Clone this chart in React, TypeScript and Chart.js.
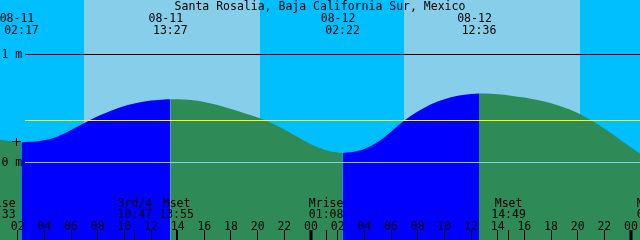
import React, { useEffect, useRef } from "react";
import { Chart, registerables } from "chart.js";

Chart.register(...registerables);

const TITLE = "Santa Rosalia, Baja California Sur, Mexico";

// hours counted from 08-11 00:00 (local)
const tideHours = [
  0.675, 1, 2, 2.283, 3, 4, 5, 6, 7, 8, 9, 10, 11, 12, 13, 13.45,
  14, 15, 16, 17, 18, 19, 20, 21, 22, 23, 24, 25, 26, 26.367,
  27, 28, 29, 30, 31, 32, 33, 34, 35, 36, 36.6,
  37, 38, 39, 40, 41, 42, 43, 44, 45, 46, 47, 48, 48.675,
];
// tide level in metres
const tideLevels = [
  0.213, 0.205, 0.19, 0.188, 0.192, 0.205, 0.24, 0.3, 0.366, 0.428, 0.48, 0.522, 0.553, 0.574, 0.584, 0.586,
  0.585, 0.578, 0.561, 0.532, 0.495, 0.456, 0.416, 0.368, 0.305, 0.236, 0.17, 0.119, 0.092, 0.089,
  0.094, 0.125, 0.19, 0.285, 0.388, 0.472, 0.54, 0.586, 0.617, 0.635, 0.639,
  0.638, 0.632, 0.619, 0.601, 0.578, 0.548, 0.51, 0.458, 0.392, 0.314, 0.228, 0.14, 0.083,
];

const extremeHours = [2.283, 13.45, 26.367, 36.6];
const extremeDates = ["08-11", "08-11", "08-12", "08-12"];
const extremeTimes = ["02:17", "13:27", "02:22", "12:36"];

const eventHours = [0.55, 10.783, 13.917, 25.133, 38.817, 49.733];
const eventNames = ["Mrise", "3rd/4", "Mset", "Mrise", "Mset", "Mrise"];
const eventTimes = ["00:33", "10:47", "13:55", "01:08", "14:49", "01:44"];

const sunriseHours = [6.967, 30.967];
const sunsetHours = [20.183, 44.183];

const hourTicks = [2, 4, 6, 8, 10, 12, 14, 16, 18, 20, 22, 24, 26, 28, 30, 32, 34, 36, 38, 40, 42, 44, 46, 48];
const hourLabels = ["02", "04", "06", "08", "10", "12", "14", "16", "18", "20", "22", "00", "02", "04", "06", "08", "10", "12", "14", "16", "18", "20", "22", "00"];

const levelLineValues = [1, 0.389, 0];
const levelLineColors = ["#000000", "#FFFF00", "#87CEEB"];
const levelLineLabels = ["1 m", "", "0 m"];

const X_MIN = 0.675;
const X_MAX = 48.675;
const Y_MIN = -0.71759;
const Y_MAX = 1.50463;

const NIGHT = "#00BFFF";
const DAY = "#87CEEB";
const FLOOD = "#0000FF";
const EBB = "#2E8B57";
const FONT = "11.5px 'DejaVu Sans Mono', monospace";

function buildDatasets() {
  const cuts = [0];
  extremeHours.forEach((h) => {
    const i = tideHours.indexOf(h);
    if (i > 0) cuts.push(i);
  });
  cuts.push(tideHours.length - 1);
  const sets: any[] = [];
  for (let k = 0; k < cuts.length - 1; k++) {
    const a = cuts[k];
    const b = cuts[k + 1];
    const pts = [];
    for (let i = a; i <= b; i++) pts.push({ x: tideHours[i], y: tideLevels[i] });
    const rising = tideLevels[b] > tideLevels[a];
    sets.push({
      data: pts,
      fill: "start",
      backgroundColor: rising ? FLOOD : EBB,
      borderWidth: 0,
      borderColor: "rgba(0,0,0,0)",
      pointRadius: 0,
      cubicInterpolationMode: "monotone",
    });
  }
  return sets;
}

const decorPlugin = {
  id: "tideDecor",
  beforeDatasetsDraw(chart: any) {
    const { ctx, width, height } = chart;
    const xs = chart.scales.x;
    ctx.save();
    ctx.fillStyle = NIGHT;
    ctx.fillRect(0, 0, width, height);
    ctx.fillStyle = DAY;
    for (let i = 0; i < sunriseHours.length; i++) {
      const a = Math.round(xs.getPixelForValue(sunriseHours[i]));
      const b = Math.round(xs.getPixelForValue(sunsetHours[i]));
      ctx.fillRect(a, 0, b - a, height);
    }
    ctx.restore();
  },
  afterDatasetsDraw(chart: any) {
    const { ctx, width } = chart;
    const xs = chart.scales.x;
    const ys = chart.scales.y;
    ctx.save();
    levelLineValues.forEach((v, i) => {
      const py = Math.floor(ys.getPixelForValue(v));
      ctx.fillStyle = levelLineColors[i];
      ctx.fillRect(25, py, width - 25, 1);
    });
    ctx.font = FONT;
    ctx.fillStyle = "#000";
    ctx.textBaseline = "alphabetic";
    ctx.textAlign = "left";
    levelLineValues.forEach((v, i) => {
      if (!levelLineLabels[i]) return;
      const py = Math.floor(ys.getPixelForValue(v));
      ctx.fillText(levelLineLabels[i], 1.5, py + 4);
    });
    ctx.fillRect(12, 141, 9, 1);
    ctx.fillRect(16, 138, 1, 8);
    ctx.textAlign = "center";
    ctx.fillText(TITLE, 320, 10);
    extremeHours.forEach((h, i) => {
      const px = xs.getPixelForValue(h);
      ctx.fillText(extremeDates[i], px - 4.5, 22);
      ctx.fillText(extremeTimes[i], px, 33.5);
    });
    hourTicks.forEach((h, i) => {
      const px = xs.getPixelForValue(h);
      const midnight = h % 24 === 0;
      if (midnight) ctx.fillRect(Math.round(px) - 1.5, 230, 3, 10);
      else ctx.fillRect(Math.floor(px), 230, 1, 10);
      ctx.fillText(hourLabels[i], px, 229.5);
    });
    eventHours.forEach((h, i) => {
      const px = xs.getPixelForValue(h);
      ctx.fillRect(Math.floor(px), 230, 1, 10);
      ctx.fillText(eventNames[i], px, 206.5);
      ctx.fillText(eventTimes[i], px, 217.5);
    });
    ctx.restore();
  },
};

export default function App() {
  const ref = useRef<HTMLCanvasElement | null>(null);
  useEffect(() => {
    document.body.style.margin = "0";
    const canvas = ref.current;
    if (!canvas) return;
    const chart = new Chart(canvas, {
      type: "line",
      data: { datasets: buildDatasets() },
      options: {
        animation: false,
        responsive: false,
        maintainAspectRatio: false,
        devicePixelRatio: 1,
        layout: { padding: 0 },
        plugins: { legend: { display: false }, tooltip: { enabled: false }, title: { display: false } },
        scales: {
          x: { type: "linear", min: X_MIN, max: X_MAX, display: false },
          y: { type: "linear", min: Y_MIN, max: Y_MAX, display: false },
        },
      },
      plugins: [decorPlugin],
    } as any);
    return () => chart.destroy();
  }, []);
  return (
    <div style={{ position: "absolute", left: 0, top: 0, width: 640, height: 240 }}>
      <canvas ref={ref} width={640} height={240} style={{ display: "block" }} />
    </div>
  );
}
